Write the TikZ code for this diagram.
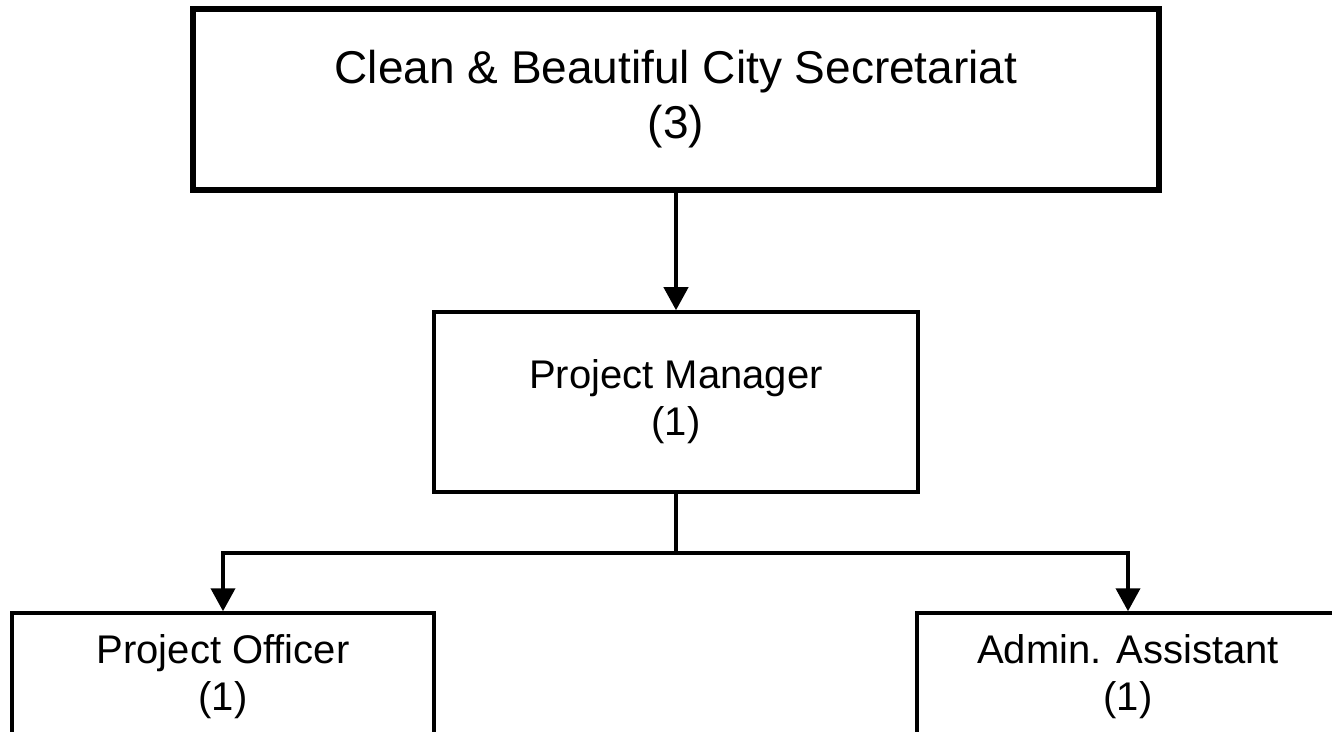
\documentclass[tikz,border=0pt]{standalone}
\usepackage{fontspec}
\setmainfont{Liberation Sans}
\usetikzlibrary{arrows.meta,positioning}
\definecolor{ink}{HTML}{000000}
\tikzset{
  unitbox/.style={
    draw=ink, fill=white, line width=1.75pt,
    align=center, inner sep=0pt,
    font=\fontsize{20}{23.5}\selectfont
  },
  headbox/.style={
    unitbox, line width=3.2pt,
    font=\fontsize{23}{27.5}\selectfont
  },
  link/.style={draw=ink, line width=2pt},
  arrow/.style={link, -{Triangle[length=11.5pt, width=12pt]}}
}

\begin{document}
\begin{tikzpicture}[x=0.5pt, y=-0.5pt]
    \clip (0,0) rectangle (1332,732);
    \fill[white] (0,0) rectangle (1332,732);

    \node[headbox, minimum width=483pt, minimum height=90.5pt] (secretariat) at (676,99.5)
      {Clean \& Beautiful City Secretariat\\(3)};
    \node[unitbox, minimum width=242pt, minimum height=90pt] (manager) at (676,402)
      {Project Manager\\(1)};
    \draw[arrow] (secretariat) -- (manager);

    \node[unitbox, minimum width=211pt, minimum height=63.5pt] (officer) at (223,676.5)
      {Project Officer\\(1)};
    \node[unitbox, minimum width=211pt, minimum height=63.5pt] (assistant) at (1128,676.5)
      {Admin. Assistant\\(1)};

    \coordinate (split) at (676,553);
    \draw[link] (manager) -- (split);
    \draw[arrow] (split) -| (officer);
    \draw[arrow] (split) -| (assistant);
  \end{tikzpicture}
\end{document}
